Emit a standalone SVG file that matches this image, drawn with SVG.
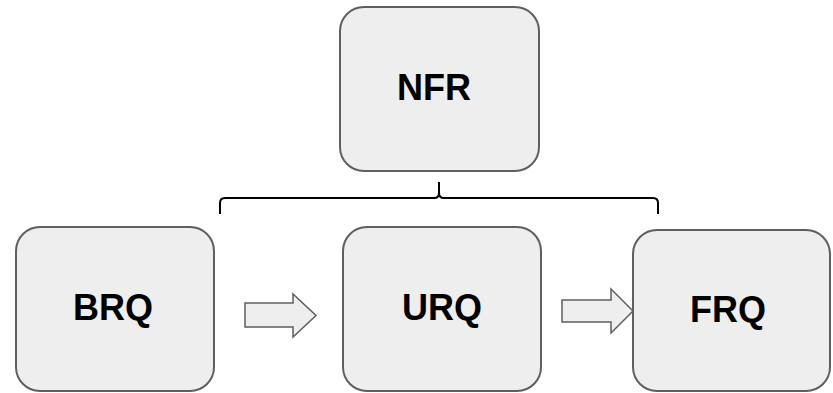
<svg xmlns="http://www.w3.org/2000/svg" width="833" height="393" viewBox="0 0 833 393">
<style>
.box{fill:#eeeeee;stroke:#5f5f5f;stroke-width:2}
.lbl{font-family:"Liberation Sans",Arial,sans-serif;font-weight:bold;font-size:36px;fill:#000;text-anchor:middle}
.arr{fill:#eeeeee;stroke:#5f5f5f;stroke-width:1.5;stroke-linejoin:miter}
.brace{fill:none;stroke:#000;stroke-width:2}
</style>
<rect width="833" height="393" fill="#fff"/>
<g id="NFR">
<rect class="box" x="340" y="7" width="199" height="164" rx="24"/>
<text class="lbl" x="434" y="100">NFR</text>
</g>
<g id="BRQ">
<rect class="box" x="16" y="227" width="198" height="164" rx="24"/>
<text class="lbl" x="113" y="320">BRQ</text>
</g>
<g id="URQ">
<rect class="box" x="343" y="227" width="198" height="164" rx="24"/>
<text class="lbl" x="442" y="320">URQ</text>
</g>
<g id="FRQ">
<rect class="box" x="633" y="230" width="197" height="161" rx="24"/>
<text class="lbl" x="728" y="322">FRQ</text>
</g>
<g id="connectors">
<path class="arr" d="M245,303 H293 V294 L316,315.5 L293,337 V327 H245 Z"/>
<path class="arr" d="M562,300 H611 V289 L633,311 L611,333 V322 H562 Z"/>
<path class="brace" d="M220,214 V203 Q220,198 225,198 H434 Q439,198 439,193 V182 M439,182 V193 Q439,198 444,198 H653 Q658,198 658,203 V214"/>
</g>
</svg>
